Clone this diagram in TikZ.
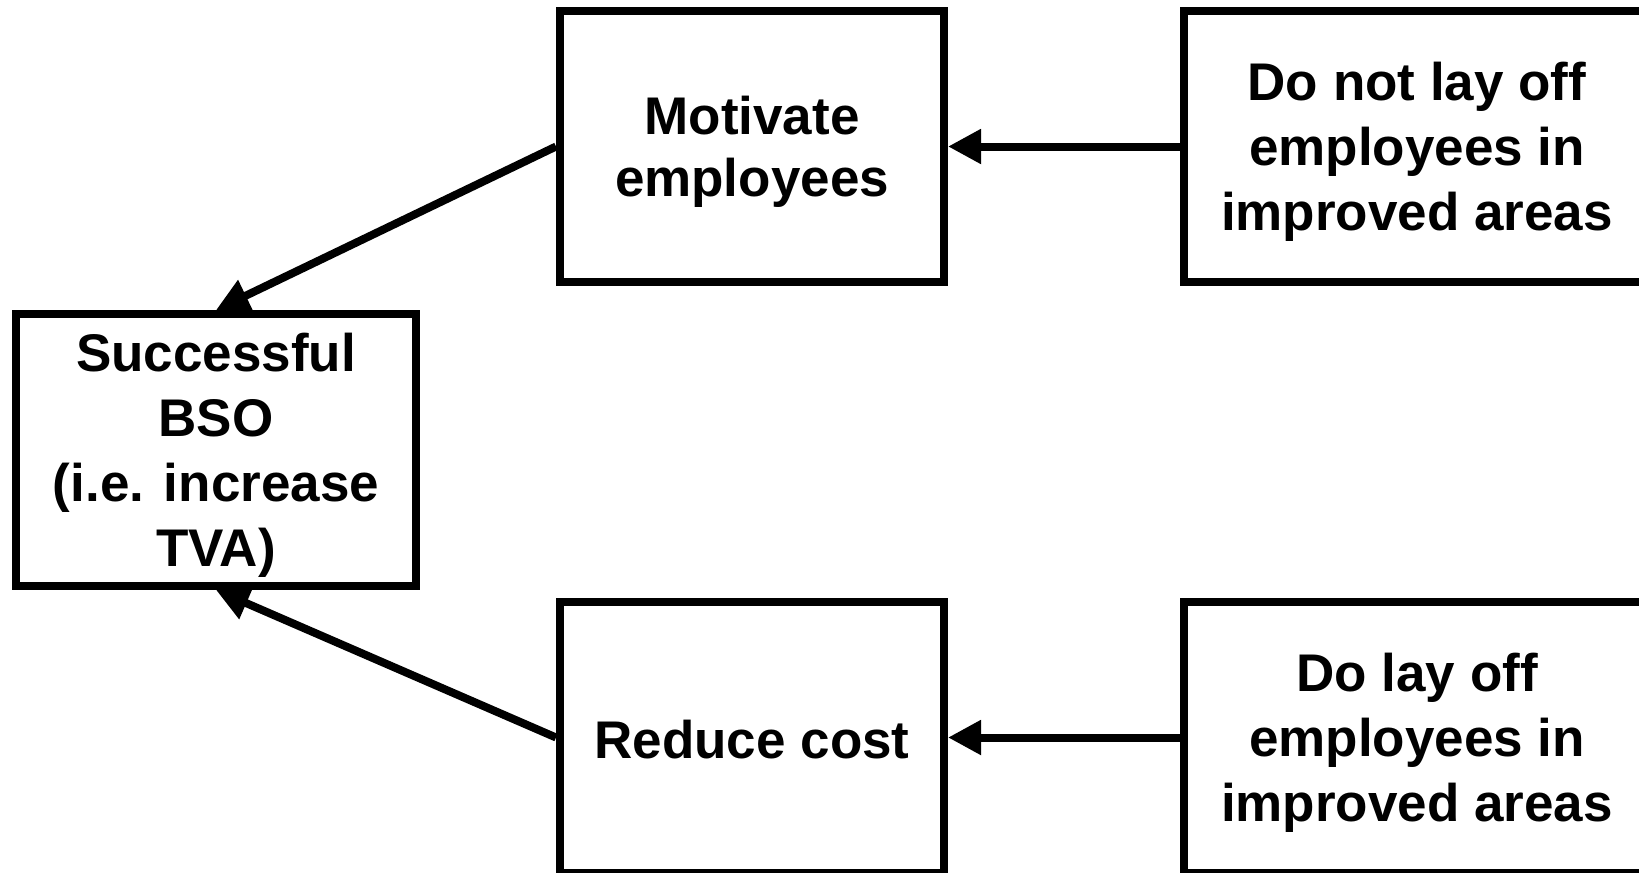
\documentclass[tikz,border=0pt]{standalone}
\usepackage{fontspec}
\setmainfont{Liberation Sans}
\usetikzlibrary{arrows.meta}
\begin{document}
\begin{tikzpicture}[x=0.5pt,y=-0.5pt,
  box/.style={draw=black,line width=4pt,rectangle,inner sep=0pt},
  txt/.style={align=center,inner sep=0pt,
    font=\fontsize{26.5}{32.5}\selectfont\bfseries},
  link/.style={line width=4pt,-{Triangle[length=16.5pt,width=16.5pt]}}]
\useasboundingbox (0,0) rectangle (1639,873);
\clip (0,0) rectangle (1639,873);
% goal and the two routes toward it
\node[box,minimum width=200pt,minimum height=136pt] (bso) at (216,450) {};
\node[box,minimum width=192pt,minimum height=135.5pt] (mot) at (752,146.5) {};
\node[box,minimum width=192pt,minimum height=135.5pt] (red) at (752,737.5) {};
% conflicting actions
\node[box,minimum width=233pt,minimum height=135.5pt] (nolay) at (1417,146.5) {};
\node[box,minimum width=233pt,minimum height=135.5pt] (lay) at (1417,737.5) {};
% box texts
\node[txt] (bsot) at ([yshift=-2.5pt]bso.center) {Successful\\BSO\\(i.e. increase\\TVA)};
\node[txt,font=\fontsize{26.5}{31}\selectfont\bfseries] (mott) at ([yshift=-2.5pt]mot.center) {Motivate\\employees};
\node[txt] (redt) at ([yshift=-1pt]red.center) {Reduce cost};
\node[txt] (nolayt) at ([yshift=-2.5pt]nolay.center) {Do not lay off\\employees in\\improved areas};
\node[txt] (layt) at ([yshift=-2.5pt]lay.center) {Do lay off\\employees in\\improved areas};
% connectors
\draw[link] (mot.west) -- (bso.north);
\draw[link] (red.west) -- (bso.south);
\draw[link] (nolay.west) -- (mot.east);
\draw[link] (lay.west) -- (red.east);
\end{tikzpicture}
\end{document}
